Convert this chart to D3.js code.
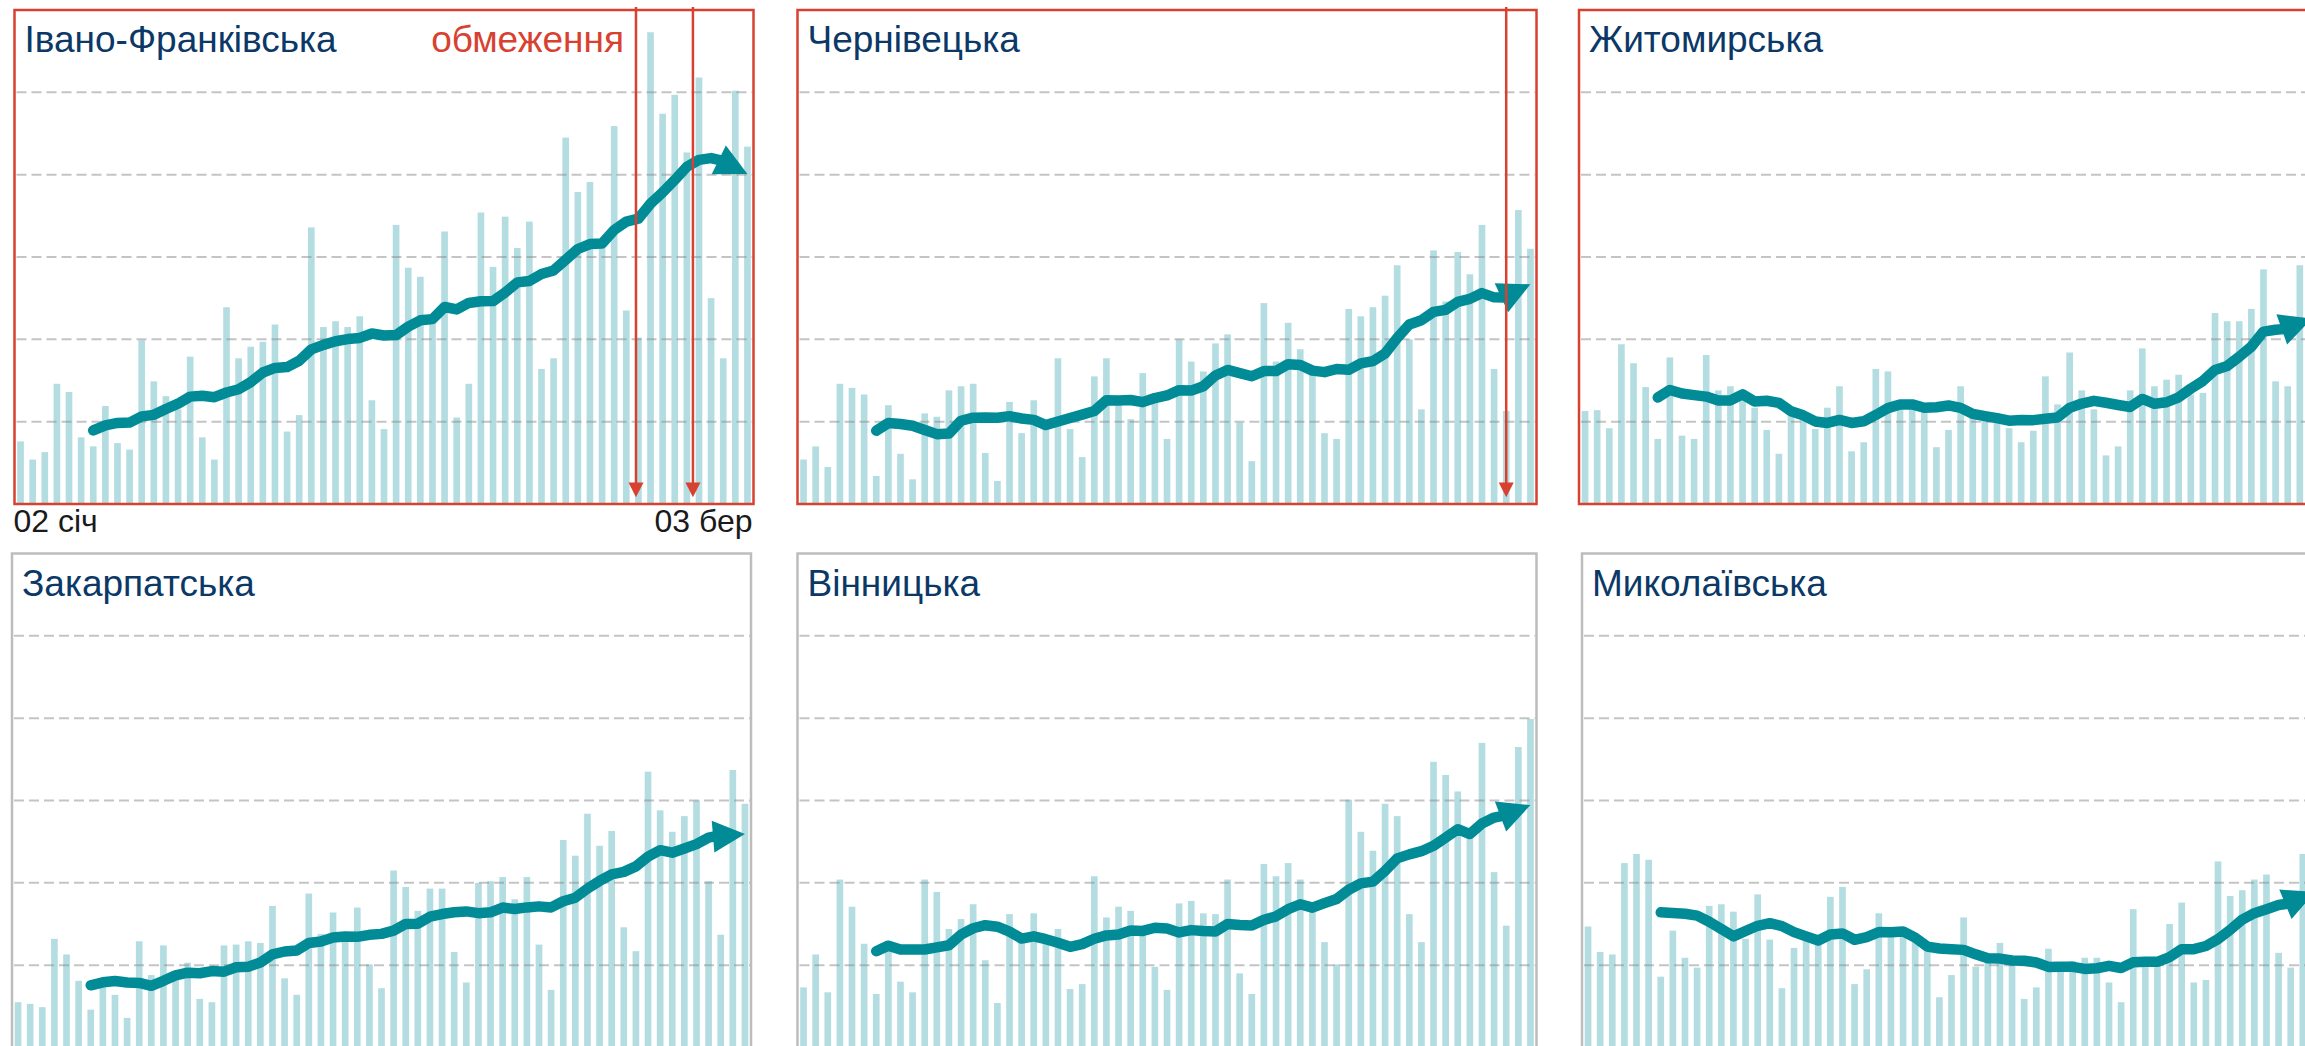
<!DOCTYPE html>
<html>
<head>
<meta charset="utf-8">
<script src="https://cdn.jsdelivr.net/npm/d3@7"></script>
<style>
  body { margin: 0; background: #fff; overflow: hidden; }
  text { font-family: "Liberation Sans", Arial, sans-serif; }
</style>
</head>
<body>
<div id="chart"></div>
<script>
var width = 2305,
    height = 1046;

// Regions, in panel order (row by row)
var regions = ['Івано-Франківська', 'Чернівецька', 'Житомирська',
               'Закарпатська', 'Вінницька', 'Миколаївська'];

// Daily values, 02 Jan .. 03 Mar (61 days), in grid units
var ivanoFrankivsk = [0.76, 0.54, 0.63, 1.46, 1.36, 0.81, 0.70, 1.19, 0.74, 0.66,
    1.99, 1.49, 1.31, 1.15, 1.79, 0.81, 0.54, 2.39, 1.77, 1.91,
    1.97, 2.18, 0.88, 1.08, 3.36, 2.15, 2.22, 2.15, 2.28, 1.26,
    0.91, 3.39, 2.87, 2.76, 2.25, 3.31, 1.05, 1.46, 3.54, 2.88,
    3.49, 3.11, 3.43, 1.64, 1.77, 4.45, 3.79, 3.91, 3.15, 4.59,
    2.35, 2.02, 5.73, 4.74, 4.97, 4.27, 5.18, 2.50, 1.77, 5.02, 4.34];
var chernivtsi = [0.54, 0.70, 0.45, 1.46, 1.41, 1.33, 0.34, 1.20, 0.61, 0.30,
    1.10, 1.06, 1.38, 1.43, 1.46, 0.62, 0.28, 1.24, 0.86, 1.26,
    0.99, 1.77, 0.91, 0.57, 1.55, 1.77, 1.24, 1.03, 1.59, 1.26,
    0.79, 2.00, 1.73, 1.61, 1.95, 2.06, 0.99, 0.52, 2.44, 1.73,
    2.20, 1.88, 1.58, 0.86, 0.79, 2.37, 2.28, 2.39, 2.53, 2.90,
    2.00, 1.15, 3.08, 2.46, 3.06, 2.79, 3.39, 1.64, 1.13, 3.57, 3.10];
var zhytomyr = [1.13, 1.14, 0.92, 1.94, 1.71, 1.42, 0.79, 1.78, 0.83, 0.79,
    1.81, 1.38, 1.43, 1.30, 1.17, 0.90, 0.61, 1.10, 1.03, 0.91,
    1.17, 1.43, 0.64, 0.75, 1.64, 1.61, 1.22, 1.18, 1.14, 0.69,
    0.90, 1.43, 1.10, 1.03, 1.01, 0.92, 0.75, 0.89, 1.55, 1.21,
    1.84, 1.38, 1.15, 0.59, 0.70, 1.38, 1.89, 1.43, 1.51, 1.57,
    1.33, 1.35, 2.32, 2.22, 2.22, 2.37, 2.85, 1.49, 1.43, 2.90, 2.50];
var zakarpattia = [0.55, 0.53, 0.49, 1.32, 1.13, 0.81, 0.46, 0.80, 0.64, 0.36,
    1.29, 0.88, 1.24, 0.92, 1.03, 0.59, 0.55, 1.24, 1.25, 1.29,
    1.27, 1.72, 0.84, 0.64, 1.87, 1.38, 1.64, 1.34, 1.70, 1.01,
    0.72, 2.15, 1.95, 1.66, 1.93, 1.93, 1.16, 0.79, 2.00, 2.02,
    2.07, 1.80, 2.07, 1.25, 0.70, 2.52, 2.33, 2.84, 2.45, 2.63,
    1.46, 1.17, 3.35, 2.88, 2.62, 2.81, 3.00, 2.02, 1.37, 3.37, 2.96];
var vinnytsia = [0.73, 1.13, 0.67, 2.04, 1.71, 1.26, 0.65, 1.20, 0.80, 0.67,
    2.04, 1.89, 1.44, 1.56, 1.74, 1.06, 0.54, 1.62, 1.30, 1.63,
    1.32, 1.44, 0.71, 0.77, 2.08, 1.58, 1.71, 1.66, 1.40, 0.98,
    0.70, 1.75, 1.78, 1.63, 1.62, 2.04, 0.90, 0.65, 2.23, 2.08,
    2.24, 2.04, 1.75, 1.28, 1.01, 3.01, 2.62, 2.39, 2.96, 2.81,
    1.62, 1.28, 3.47, 3.31, 3.11, 2.55, 3.70, 2.13, 1.48, 3.65, 3.99];
var mykolaiv = [1.47, 1.16, 1.13, 2.24, 2.35, 2.28, 0.86, 1.42, 1.09, 0.97,
    1.72, 1.74, 1.65, 1.32, 1.86, 1.31, 0.72, 1.21, 1.38, 1.30,
    1.83, 1.95, 0.77, 0.95, 1.63, 1.36, 1.38, 1.30, 1.19, 0.61,
    0.88, 1.58, 0.98, 1.05, 1.27, 1.03, 0.59, 0.73, 1.20, 0.99,
    1.05, 1.09, 1.09, 0.79, 0.55, 1.68, 1.05, 1.03, 1.50, 1.76,
    0.79, 0.82, 2.26, 1.84, 1.91, 2.04, 2.10, 1.15, 0.97, 2.35, 2.70];

var series = [ivanoFrankivsk, chernivtsi, zhytomyr, zakarpattia, vinnytsia, mykolaiv];

// Restriction arrows: day offsets from 02 Jan
var restrictions = [[51.3, 56], [58.5], [], [], [], []];
var restricted = [true, true, true, false, false, false];

var tickLabels = ['02 січ', '03 бер'];
var gridValues = [1, 2, 3, 4, 5];
var windowDays = 7;

// layout
var panelW = 739,
    panelH = 494;
var origins = [[14.5, 10], [797.5, 10], [1579, 10],
               [12, 553.5], [797.5, 553.5], [1582, 553.5]];

var red = '#d8412f',
    navy = '#0b3866',
    teal = '#008b96',
    barColor = '#b4dde1';

var svg = d3.select('#chart').append('svg')
    .attr('width', width)
    .attr('height', height);

series.forEach(function(values, k) {
    drawPanel(k, values);
});

function drawPanel(k, values) {
    var x0 = origins[k][0],
        y0 = origins[k][1];
    var n = values.length;

    var x = d3.scaleBand()
        .domain(d3.range(n))
        .range([0, panelW])
        .paddingInner(0.45)
        .paddingOuter(0.225);
    var xDay = d3.scaleLinear().domain([0, n]).range([0, panelW]);
    var y = d3.scaleLinear().domain([0, 6]).range([panelH, 0]);

    var g = svg.append('g')
        .attr('transform', 'translate(' + x0 + ',' + y0 + ')');

    g.append('rect')
        .attr('width', panelW).attr('height', panelH)
        .attr('fill', '#fff');

    g.selectAll('rect.bar').data(values)
      .enter().append('rect')
        .attr('class', 'bar')
        .attr('x', function(d, i) { return x(i); })
        .attr('y', function(d) { return y(d); })
        .attr('width', x.bandwidth())
        .attr('height', function(d) { return panelH - y(d); })
        .attr('fill', barColor);

    g.selectAll('line.grid').data(gridValues)
      .enter().append('line')
        .attr('class', 'grid')
        .attr('x1', 2).attr('x2', panelW - 1)
        .attr('y1', y).attr('y2', y)
        .attr('stroke', '#8a8a8a')
        .attr('stroke-opacity', 0.5)
        .attr('stroke-width', 2)
        .attr('stroke-dasharray', '10,5');

    // 7-day rolling average
    var avg = d3.range(windowDays - 1, n).map(function(i) {
        return {i: i, v: d3.mean(values.slice(i - windowDays + 1, i + 1))};
    });
    var line = d3.line()
        .x(function(d) { return x(d.i) + x.bandwidth() / 2; })
        .y(function(d) { return y(d.v); });

    var path = g.append('path')
        .datum(avg)
        .attr('d', line)
        .attr('fill', 'none')
        .attr('stroke', teal)
        .attr('stroke-width', 10.5)
        .attr('stroke-linejoin', 'round')
        .attr('stroke-linecap', 'round');

    var L = path.node().getTotalLength();
    path.attr('stroke-dasharray', (L - 28) + ',' + (L + 50));
    var p0 = path.node().getPointAtLength(L - 32),
        p1 = path.node().getPointAtLength(L);
    var ang = Math.atan2(p1.y - p0.y, p1.x - p0.x) * 180 / Math.PI;
    g.append('path')
        .attr('d', 'M0,0L-32,-16L-32,16Z')
        .attr('fill', teal)
        .attr('transform', 'translate(' + p1.x + ',' + p1.y + ') rotate(' + ang + ')');

    // frame
    g.append('rect')
        .attr('width', panelW).attr('height', panelH)
        .attr('fill', 'none')
        .attr('stroke', restricted[k] ? red : '#bdbdbd')
        .attr('stroke-width', 2.5);

    g.append('text')
        .attr('x', 10).attr('y', 42)
        .attr('font-size', 37)
        .attr('fill', navy)
        .text(regions[k]);

    // restriction arrows
    var arrows = g.selectAll('g.restr').data(restrictions[k])
      .enter().append('g')
        .attr('class', 'restr')
        .attr('transform', function(d) { return 'translate(' + xDay(d) + ',0)'; });
    arrows.append('line')
        .attr('x1', 0).attr('x2', 0)
        .attr('y1', -3).attr('y2', panelH - 20)
        .attr('stroke', red)
        .attr('stroke-width', 2.5);
    arrows.append('path')
        .attr('d', 'M-7.5,' + (panelH - 21.5) + 'L7.5,' + (panelH - 21.5) + 'L0,' + (panelH - 6.7) + 'Z')
        .attr('fill', red);

    if (restrictions[k].length > 1) {
        g.append('text')
            .attr('x', xDay(restrictions[k][0]) - 12).attr('y', 42)
            .attr('text-anchor', 'end')
            .attr('font-size', 37)
            .attr('fill', red)
            .text('обмеження');
    }

    if (k === 0) {
        g.append('text')
            .attr('x', -1).attr('y', panelH + 28)
            .attr('font-size', 32)
            .attr('fill', '#1a1a1a')
            .text(tickLabels[0]);
        g.append('text')
            .attr('x', panelW - 1).attr('y', panelH + 28)
            .attr('text-anchor', 'end')
            .attr('font-size', 32)
            .attr('fill', '#1a1a1a')
            .text(tickLabels[1]);
    }
}
</script>
</body>
</html>
